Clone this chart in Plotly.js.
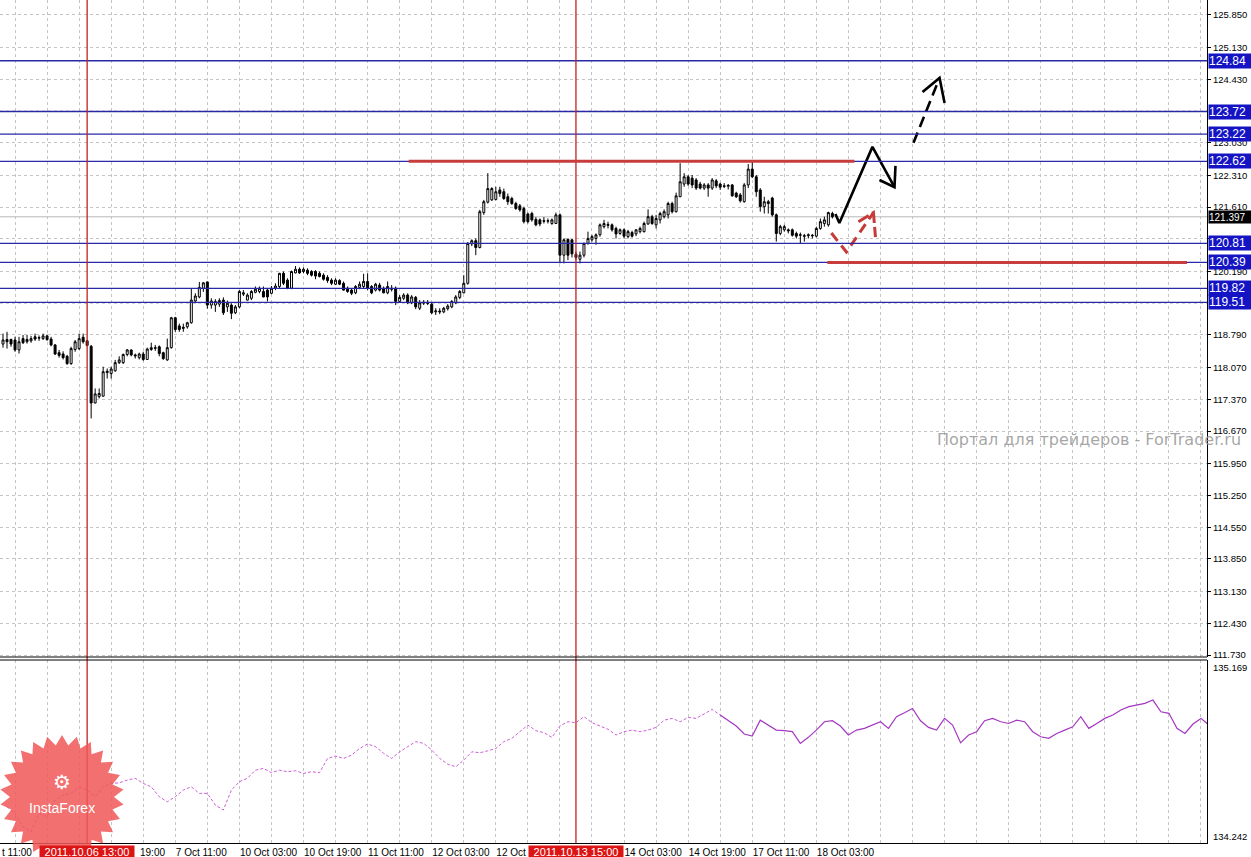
<!DOCTYPE html>
<html><head><meta charset="utf-8">
<script src="https://cdn.plot.ly/plotly-3.0.1.min.js"></script>
<style>html,body{margin:0;padding:0;background:#fff;overflow:hidden}#chart{width:1251px;height:857px}</style>
</head><body><div id="chart"></div>
<script>
// ---- GBPJPY H1 candles (bar index 0 = 5 Oct 16:00) ----
const openP = [
118.59,118.69,118.69,118.68,118.46,118.71,118.64,118.66,118.75,118.72,
118.71,118.77,118.70,118.57,118.40,118.37,118.32,118.16,118.47,118.49,
118.74,118.66,118.54,117.29,117.43,117.44,117.96,117.94,118.00,118.18,
118.18,118.36,118.46,118.35,118.29,118.37,118.25,118.47,118.51,118.53,
118.40,118.24,118.51,119.17,118.99,118.96,118.97,119.06,119.54,119.63,
119.82,119.96,119.45,119.45,119.47,119.56,119.41,119.45,119.28,119.41,
119.69,119.56,119.60,119.73,119.75,119.75,119.78,119.71,119.82,119.86,
120.15,120.00,119.82,120.16,120.24,120.19,120.22,120.19,120.19,120.15,
120.11,120.06,120.00,119.91,119.99,119.93,119.82,119.78,119.72,119.84,
119.86,119.97,119.86,119.78,119.89,119.82,119.72,119.82,119.82,119.53,
119.60,119.67,119.50,119.62,119.38,119.49,119.51,119.47,119.30,119.32,
119.30,119.37,119.41,119.50,119.62,119.72,119.93,120.80,120.87,120.72,
121.49,121.72,121.77,121.78,121.99,121.95,121.84,121.80,121.69,121.64,
121.58,121.46,121.47,121.34,121.33,121.31,121.30,121.25,121.25,121.44,
120.55,120.90,120.89,120.57,120.46,120.55,120.81,120.89,120.92,121.00,
121.18,121.23,121.22,121.14,121.03,121.11,120.96,121.05,121.02,121.07,
121.07,121.24,121.40,121.22,121.33,121.40,121.44,121.69,121.51,121.84,
122.12,122.28,122.25,122.21,122.12,122.03,122.10,122.03,122.19,122.12,
122.08,122.07,122.10,121.92,121.88,121.73,122.10,122.45,122.28,121.99,
121.62,121.73,121.81,121.44,121.03,121.11,121.11,121.11,121.03,120.99,
120.98,120.98,120.99,120.97,121.14,121.25,121.22,121.47];
const highP = [
118.82,118.86,118.71,118.75,118.75,118.79,118.79,118.77,118.82,118.78,
118.82,118.80,118.75,118.59,118.46,118.43,118.35,118.53,118.68,118.82,
118.82,118.68,118.57,117.61,117.61,118.09,118.05,118.09,118.24,118.32,
118.38,118.48,118.47,118.38,118.40,118.42,118.51,118.62,118.57,118.56,
118.42,118.71,119.19,119.19,119.04,119.04,119.08,119.82,119.71,119.96,
119.96,119.97,119.60,119.58,119.60,119.62,119.55,119.49,119.45,119.78,
119.78,119.71,119.78,119.86,119.86,119.86,119.82,119.87,119.93,120.16,
120.19,120.04,120.21,120.31,120.28,120.28,120.26,120.22,120.22,120.19,
120.15,120.11,120.04,120.04,120.02,119.97,119.86,119.82,119.89,119.97,
120.14,120.15,119.89,119.94,119.94,119.86,119.97,119.89,119.86,119.67,
119.71,119.71,119.67,119.65,119.56,119.56,119.56,119.50,119.38,119.38,
119.41,119.47,119.56,119.67,119.78,120.11,120.84,120.90,120.92,121.55,
121.77,122.36,122.05,122.06,122.06,122.02,121.91,121.84,121.73,121.68,
121.62,121.49,121.51,121.39,121.36,121.39,121.36,121.36,121.49,121.47,
120.92,120.92,120.90,120.63,120.63,120.83,121.07,121.00,121.03,121.25,
121.33,121.29,121.25,121.18,121.14,121.14,121.11,121.09,121.12,121.18,
121.29,121.56,121.44,121.44,121.51,121.56,121.73,121.73,121.93,122.58,
122.36,122.32,122.32,122.25,122.17,122.14,122.14,122.25,122.23,122.15,
122.14,122.12,122.12,121.95,121.92,122.14,122.56,122.62,122.32,122.03,
121.84,121.77,121.84,121.47,121.22,121.22,121.14,121.14,121.07,121.05,
121.02,121.03,121.02,121.18,121.36,121.40,121.51,121.51];
const lowP = [
118.51,118.49,118.53,118.42,118.38,118.59,118.60,118.62,118.66,118.66,
118.68,118.66,118.54,118.35,118.29,118.25,118.13,118.13,118.42,118.46,
118.60,118.54,116.95,117.28,117.39,117.43,117.83,117.83,117.98,118.15,
118.15,118.32,118.32,118.27,118.25,118.22,118.24,118.44,118.44,118.32,
118.24,118.22,118.49,118.86,118.86,118.86,118.93,119.04,119.49,119.60,
119.74,119.37,119.37,119.30,119.41,119.23,119.30,119.14,119.25,119.38,
119.65,119.55,119.56,119.71,119.71,119.62,119.53,119.69,119.78,119.82,
119.89,119.80,119.80,120.15,120.14,120.15,120.11,120.08,120.02,120.06,
119.99,119.94,119.89,119.89,119.89,119.77,119.72,119.67,119.69,119.80,
119.82,119.78,119.69,119.75,119.75,119.71,119.69,119.75,119.45,119.50,
119.56,119.47,119.47,119.36,119.34,119.45,119.45,119.25,119.23,119.25,
119.27,119.33,119.38,119.47,119.58,119.71,119.90,120.75,120.55,120.70,
121.44,121.69,121.75,121.76,121.84,121.77,121.66,121.66,121.55,121.51,
121.25,121.25,121.29,121.19,121.19,121.25,121.25,121.22,121.24,120.37,
120.37,120.44,120.50,120.44,120.37,120.50,120.78,120.85,120.78,120.96,
121.14,121.14,121.07,120.92,121.00,120.92,120.92,120.94,120.97,121.03,
121.05,121.22,121.22,121.14,121.25,121.36,121.36,121.47,121.49,121.83,
122.06,122.08,122.03,121.99,122.00,121.99,121.84,121.99,122.03,121.99,
122.03,122.00,121.84,121.81,121.71,121.71,122.03,122.25,121.84,121.51,
121.47,121.47,121.40,120.85,120.99,121.07,121.03,120.96,120.92,120.81,
120.85,120.92,120.92,120.94,121.11,121.18,121.18,121.36];
const closeP = [
118.68,118.64,118.59,118.46,118.64,118.62,118.69,118.71,118.70,118.73,
118.77,118.69,118.57,118.37,118.34,118.29,118.16,118.49,118.64,118.71,
118.64,118.56,117.29,117.49,117.50,117.98,117.99,118.04,118.18,118.24,
118.36,118.46,118.35,118.33,118.37,118.25,118.48,118.51,118.50,118.38,
118.27,118.51,119.17,118.91,118.91,118.94,119.06,119.56,119.65,119.84,
119.94,119.45,119.54,119.53,119.55,119.28,119.49,119.27,119.41,119.75,
119.72,119.67,119.75,119.80,119.82,119.63,119.63,119.82,119.87,120.15,
119.93,119.82,120.19,120.24,120.16,120.24,120.15,120.11,120.09,120.08,
120.02,119.99,119.93,120.00,119.91,119.78,119.75,119.71,119.86,119.91,
119.97,119.82,119.72,119.91,119.78,119.72,119.86,119.80,119.53,119.62,
119.67,119.50,119.63,119.41,119.50,119.51,119.49,119.28,119.32,119.30,
119.38,119.43,119.53,119.63,119.75,119.93,120.81,120.87,120.72,121.51,
121.73,122.02,122.02,121.95,121.91,121.80,121.73,121.69,121.58,121.55,
121.29,121.29,121.33,121.22,121.24,121.30,121.31,121.33,121.44,120.55,
120.89,120.55,120.58,120.50,120.55,120.81,120.92,120.96,121.00,121.22,
121.25,121.21,121.11,121.02,121.11,120.97,121.07,120.97,121.11,121.14,
121.25,121.40,121.25,121.36,121.47,121.51,121.69,121.51,121.86,122.17,
122.28,122.12,122.10,122.03,122.03,122.10,122.03,122.21,122.08,122.05,
122.07,122.09,121.86,121.84,121.75,122.10,122.45,122.28,121.95,121.62,
121.73,121.69,121.44,121.03,121.18,121.18,121.09,120.99,120.97,121.00,
120.97,121.00,120.98,121.14,121.29,121.33,121.49,121.397];

// ---- overlay indicator (sampled every 2 bars, starting at bar 1) ----
const indicatorValues = [
134.423,134.388,134.320,134.295,134.388,134.371,134.457,134.482,134.491,134.525,
134.508,134.474,134.525,134.542,134.545,134.559,134.568,134.542,134.525,134.474,
134.448,134.474,134.508,134.525,134.491,134.491,134.431,134.406,134.508,134.551,
134.568,134.610,134.619,134.597,134.610,134.602,134.607,134.593,134.602,134.597,
134.670,134.682,134.670,134.687,134.721,134.744,134.730,134.696,134.670,134.704,
134.730,134.756,134.747,134.713,134.670,134.641,134.627,134.662,134.704,134.699,
134.709,134.721,134.756,134.773,134.807,134.841,134.812,134.802,134.778,134.836,
134.858,134.853,134.884,134.853,134.836,134.819,134.790,134.807,134.815,134.807,
134.815,134.829,134.866,134.875,134.858,134.880,134.875,134.897,134.921,134.892,
134.863,134.836,134.795,134.785,134.866,134.841,134.815,134.812,134.807,134.747,
134.778,134.815,134.858,134.863,134.836,134.790,134.815,134.824,134.841,134.858,
134.824,134.884,134.904,134.926,134.863,134.829,134.815,134.875,134.841,134.750,
134.790,134.807,134.863,134.875,134.858,134.849,134.866,134.858,134.807,134.781,
134.773,134.798,134.815,134.832,134.884,134.824,134.849,134.875,134.892,134.918,
134.935,134.943,134.952,134.969,134.909,134.901,134.824,134.798,134.846,134.875,
134.841];
const indicatorDottedCount = 90;   // first part drawn dotted
const indicatorMax = "135.169", indicatorMin = "134.242";

// ---- axis labels ----
// 123.730 and 119.490 sit fully under the level boxes in the original, so they are not printed
const priceTickLabels = ['111.730','112.430','113.130','113.850','114.550','115.250','115.950','116.670','117.370','118.070',
  '118.790','120.190','120.910','121.610','122.310','123.030','124.430','125.130','125.850'];
const hiddenGridLevels = [119.49, 123.73];
const timeLabelBars = [11,27,43,59,75,91,107,123,139,155,171,187,203];
// text of each time label as far as it is visible (the red event boxes cover some of them)
const timeLabelText = ['','','7 Oct 11:00','10 Oct 03:00','10 Oct 19:00','11 Oct 11:00','12 Oct 03:00',
  '12 Oct','','14 Oct 03:00','14 Oct 19:00','17 Oct 11:00','18 Oct 03:00'];
const partialLabels = ['t 11:00', '19:00'];

// ---- drawing objects ----
const levelPrices = [124.84, 123.72, 123.22, 122.62, 120.81, 120.39, 119.82, 119.51];
const currentPrice = 121.397;
const eventBars = [21, 143];
const eventText = ['2011.10.06 13:00', '2011.10.13 15:00'];
const trendPrice = [122.62, 120.39];
const trendFromBar = [101.25, 205.75];
const trendToBar = [212.5, 295.5];
const arrowMainX = [207.75, 208.75, 217, 222.5], arrowMainY = [121.46, 121.26, 122.94, 122.05];
const arrowMainHeadX = [218.75, 222.5, 222.75], arrowMainHeadY = [122.21, 122.05, 122.52];
const arrowUpX = [227.25, 233.75], arrowUpY = [123.03, 124.46];
const arrowUpHeadX = [229.5, 233.75, 235], arrowUpHeadY = [124.15, 124.46, 123.91];
const arrowAltX = [206.75, 210.5, 217.25], arrowAltY = [121.04, 120.62, 121.49];
const arrowAltHeadX = [213.5, 217.25, 217.75], arrowAltHeadY = [121.29, 121.49, 120.95];
const watermark = 'Портал для трейдеров - ForTrader.ru';
const logoText = 'InstaForex';

// ---- layout geometry ----
const W = 1251, H = 857, ML = 0, MR = 44, MT = 0, MB = 14;
const plotW = W - ML - MR, plotH = H - MT - MB;
const pyToPaper = py => 1 - py / plotH;
const mainBottom = pyToPaper(657), indTop = pyToPaper(660);
const FONT = 'Liberation Sans, Arial, sans-serif';
const gridColor = '#c4c4c4';
const levelColor = '#2828a8';

const bars = openP.map((_, i) => i);
const indBars = indicatorValues.map((_, i) => 2 * i + 1);

const traces = [];
traces.push({
  type: 'candlestick', x: bars, open: openP, high: highP, low: lowP, close: closeP,
  xaxis: 'x', yaxis: 'y', whiskerwidth: 0, hoverinfo: 'skip', showlegend: false,
  increasing: {line: {color: '#000', width: 1}, fillcolor: '#fff'},
  decreasing: {line: {color: '#000', width: 1}, fillcolor: '#000'}
});
traces.push({
  type: 'scatter', mode: 'lines', xaxis: 'x', yaxis: 'y2', hoverinfo: 'skip', showlegend: false,
  x: indBars.slice(0, indicatorDottedCount), y: indicatorValues.slice(0, indicatorDottedCount),
  line: {color: 'rgb(205,95,215)', width: 1, dash: '3px,2px'}
});
traces.push({
  type: 'scatter', mode: 'lines', xaxis: 'x', yaxis: 'y2', hoverinfo: 'skip', showlegend: false,
  x: indBars.slice(indicatorDottedCount - 1), y: indicatorValues.slice(indicatorDottedCount - 1),
  line: {color: 'rgb(165,55,195)', width: 1.2}
});
function seg(x, y, color, dash, width) {
  return {type: 'scatter', mode: 'lines', x: x, y: y, xaxis: 'x', yaxis: 'y', hoverinfo: 'skip', showlegend: false,
    line: {color: color, width: width, dash: dash}, cliponaxis: false};
}
traces.push(seg(arrowMainX, arrowMainY, '#000', 'solid', 2.6));
traces.push(seg(arrowMainHeadX, arrowMainHeadY, '#000', 'solid', 2.6));
traces.push(seg(arrowUpX, arrowUpY, '#000', '11px,6px', 2.6));
traces.push(seg(arrowUpHeadX, arrowUpHeadY, '#000', 'solid', 2.6));
traces.push(seg(arrowAltX, arrowAltY, '#c83a3a', '10px,6px', 3));
traces.push(seg(arrowAltHeadX, arrowAltHeadY, '#c83a3a', '12px,4px', 3));

const shapes = [];
hiddenGridLevels.forEach(p => shapes.push({type: 'line', xref: 'paper', yref: 'y', x0: 0, x1: 1, y0: p, y1: p,
  line: {color: gridColor, width: 1, dash: '3px,3px'}, layer: 'below'}));
shapes.push({type: 'line', xref: 'paper', yref: 'y', x0: 0, x1: 1, y0: currentPrice, y1: currentPrice,
  line: {color: '#b8b8b8', width: 1}, layer: 'below'});
levelPrices.forEach(p => shapes.push({type: 'line', xref: 'paper', yref: 'y', x0: 0, x1: 1, y0: p, y1: p,
  line: {color: levelColor, width: 1.3}, layer: 'above'}));
eventBars.forEach(b => shapes.push({type: 'line', xref: 'x', yref: 'paper', x0: b, x1: b, y0: 0, y1: 1,
  line: {color: '#c02222', width: 1.3}, layer: 'above'}));
trendPrice.forEach((p, i) => shapes.push({type: 'line', xref: 'x', yref: 'y', x0: trendFromBar[i], x1: trendToBar[i],
  y0: p, y1: p, line: {color: '#c83c3c', width: 3}, layer: 'above'}));
// panel separators
shapes.push({type: 'line', xref: 'paper', yref: 'paper', x0: 0, x1: 1, y0: mainBottom, y1: mainBottom, line: {color: '#000', width: 1}});
shapes.push({type: 'line', xref: 'paper', yref: 'paper', x0: 0, x1: 1, y0: indTop, y1: indTop, line: {color: '#000', width: 1}});
// InstaForex badge (decorative star)
(function () {
  const cx = 62, cy = 797, R = 62, r = 52, n = 26;
  let d = '';
  for (let i = 0; i < 2 * n; i++) {
    const a = Math.PI * i / n - Math.PI / 2, rad = i % 2 ? r : R;
    const px = cx + rad * Math.cos(a), py = cy + rad * Math.sin(a);
    d += (i ? 'L' : 'M') + (px / plotW).toFixed(5) + ',' + pyToPaper(py).toFixed(5);
  }
  shapes.push({type: 'path', xref: 'paper', yref: 'paper', path: d + 'Z', fillcolor: 'rgba(240,88,88,0.86)',
    line: {width: 0}, layer: 'above'});
})();

const annotations = [];
levelPrices.forEach(p => annotations.push({xref: 'paper', yref: 'y', x: 1, y: p, xanchor: 'left', yanchor: 'middle',
  xshift: 1, text: p.toFixed(2), showarrow: false, bgcolor: '#1414c4', borderpad: 0, width: 42, height: 14, align: 'left',
  font: {family: FONT, size: 12, color: '#fff'}}));
annotations.push({xref: 'paper', yref: 'y', x: 1, y: currentPrice, xanchor: 'left', yanchor: 'middle', xshift: 1,
  text: currentPrice.toFixed(3), showarrow: false, bgcolor: '#000', borderpad: 0, width: 42, height: 12, align: 'left',
  font: {family: FONT, size: 10, color: '#fff'}});
eventBars.forEach((b, i) => annotations.push({xref: 'x', yref: 'paper', x: b, y: 0, xanchor: 'center', yanchor: 'top',
  yshift: -2, text: eventText[i], showarrow: false, bgcolor: '#dc1414', borderpad: 0, width: 94, height: 12,
  font: {family: FONT, size: 11, color: '#fff'}}));
annotations.push({xref: 'paper', yref: 'paper', x: 0, y: 0, xanchor: 'left', yanchor: 'top', yshift: -2,
  text: partialLabels[0], showarrow: false, font: {family: FONT, size: 10, color: '#000'}});
annotations.push({xref: 'paper', yref: 'paper', x: 138 / plotW, y: 0, xanchor: 'left', yanchor: 'top', yshift: -2,
  text: partialLabels[1], showarrow: false, font: {family: FONT, size: 10, color: '#000'}});
annotations.push({xref: 'paper', yref: 'paper', x: 1, y: pyToPaper(667), xanchor: 'left', yanchor: 'middle', xshift: 4,
  text: indicatorMax, showarrow: false, font: {family: FONT, size: 9.5, color: '#000'}});
annotations.push({xref: 'paper', yref: 'paper', x: 1, y: pyToPaper(836), xanchor: 'left', yanchor: 'middle', xshift: 4,
  text: indicatorMin, showarrow: false, font: {family: FONT, size: 9.5, color: '#000'}});
annotations.push({xref: 'paper', yref: 'paper', x: 1243 / plotW, y: pyToPaper(439), xanchor: 'right', yanchor: 'middle',
  text: watermark, showarrow: false, font: {family: 'DejaVu Sans, sans-serif', size: 16, color: 'rgba(150,150,150,0.85)'}});
annotations.push({xref: 'paper', yref: 'paper', x: 62 / plotW, y: pyToPaper(808), xanchor: 'center', yanchor: 'middle',
  text: logoText, showarrow: false, font: {family: FONT, size: 14, color: '#fff'}});
annotations.push({xref: 'paper', yref: 'paper', x: 62 / plotW, y: pyToPaper(782), xanchor: 'center', yanchor: 'middle',
  text: '⚙', showarrow: false, font: {family: 'DejaVu Sans', size: 20, color: '#fff'}});

const layout = {
  width: W, height: H, margin: {l: ML, r: MR, t: MT, b: MB, pad: 0},
  paper_bgcolor: '#fff', plot_bgcolor: '#fff', showlegend: false,
  font: {family: FONT, size: 10, color: '#000'},
  xaxis: {
    domain: [0, 1], anchor: 'y2', range: [-0.75, 300.5], fixedrange: true,
    rangeslider: {visible: false}, zeroline: false,
    showline: true, linecolor: '#000', linewidth: 1,
    tickmode: 'array', tickvals: timeLabelBars, ticktext: timeLabelText, tickangle: 0,
    ticks: '', ticklabelposition: 'outside right',
    tickfont: {family: FONT, size: 10, color: '#000'},
    showgrid: true, gridcolor: gridColor, griddash: '3px,3px', gridwidth: 1,
    minor: {tickmode: 'linear', tick0: 3, dtick: 8, showgrid: true, gridcolor: gridColor, griddash: '3px,3px', ticks: ''}
  },
  yaxis: {
    domain: [mainBottom, 1], anchor: 'x', side: 'right', range: [111.686, 126.18], fixedrange: true,
    tickmode: 'array', tickvals: priceTickLabels.map(Number), ticktext: priceTickLabels,
    ticks: 'outside', ticklen: 3, tickcolor: '#000', showline: true, linecolor: '#000', linewidth: 1,
    tickfont: {family: FONT, size: 9.5, color: '#000'}, zeroline: false,
    showgrid: true, gridcolor: gridColor, griddash: '3px,3px'
  },
  yaxis2: {
    domain: [0, indTop], anchor: 'x', side: 'right', range: [134.237, 135.174], fixedrange: true,
    showticklabels: false, ticks: '', showline: true, linecolor: '#000', linewidth: 1,
    showgrid: false, zeroline: false
  },
  shapes: shapes, annotations: annotations
};

Plotly.newPlot('chart', traces, layout, {staticPlot: true, displayModeBar: false});
</script>
</body></html>
